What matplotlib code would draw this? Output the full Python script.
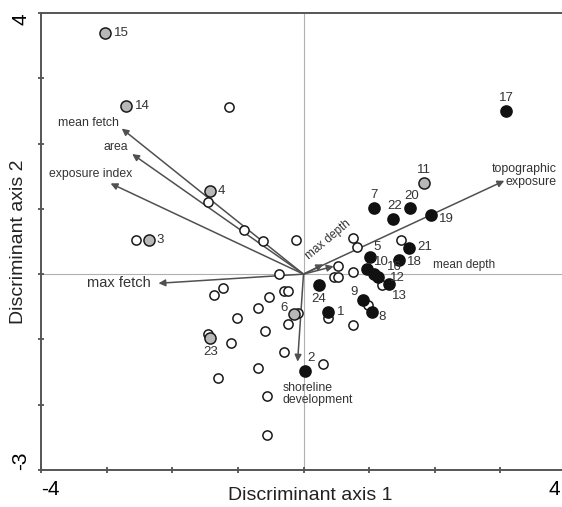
import numpy as np
import matplotlib
matplotlib.use('Agg')
import matplotlib.pyplot as plt
from matplotlib.transforms import ScaledTranslation

plt.rcParams['font.family'] = ['Liberation Sans', 'DejaVu Sans']

# unlabelled lakes (open circles)
open_x = [-1.14, -1.46, -0.90, -0.61, -0.11, -2.56, -0.38, -1.22, -1.37, -0.53,
          -0.29, -0.23, -0.70, -1.01, -0.24, -0.09, -0.58, -1.46, -1.10, -0.29,
          -0.70, -1.30, -0.56, -0.56, 0.29, 0.37, 0.76, 0.81, 1.49, 0.53,
          0.76, 0.46, 0.52, 1.19, 0.99, 0.76]
open_y = [2.56, 1.10, 0.67, 0.50, 0.52, 0.52, 0.00, -0.21, -0.32, -0.35,
          -0.26, -0.26, -0.52, -0.67, -0.76, -0.59, -0.87, -0.91, -1.05, -1.20,
          -1.43, -1.59, -1.86, -2.47, -1.37, -0.67, 0.55, 0.41, 0.53, 0.12,
          0.03, -0.05, -0.05, -0.17, -0.47, -0.78]

# grey labelled lakes
grey_lab = ['15', '14', '4', '3', '11', '6', '23']
grey_x = [-3.03, -2.70, -1.43, -2.36, 1.84, -0.15, -1.43]
grey_y = [3.69, 2.58, 1.27, 0.53, 1.40, -0.61, -0.98]

# black labelled lakes
black_lab = ['17', '7', '22', '20', '19', '21', '18', '5', '10', '16', '12',
             '13', '9', '8', '1', '24', '2']
black_x = [3.08, 1.08, 1.37, 1.63, 1.94, 1.60, 1.46, 1.01, 0.96, 1.07, 1.14,
           1.31, 0.91, 1.04, 0.37, 0.23, 0.02]
black_y = [2.50, 1.02, 0.84, 1.01, 0.91, 0.40, 0.21, 0.26, 0.08, 0.00, -0.05,
           -0.15, -0.40, -0.58, -0.58, -0.17, -1.49]

# environmental vectors
vec_names = ['mean fetch', 'area', 'exposure index', 'max fetch',
             'shoreline\ndevelopment', 'topographic\nexposure', 'max depth', 'mean depth']
vec_x = [-2.77, -2.61, -2.94, -2.21, -0.09, 3.06, 0.30, 0.46]
vec_y = [2.23, 1.84, 1.39, -0.14, -1.34, 1.43, 0.15, 0.12]

# label placement (pixel offsets from the point, alignment)
lab_pos = {
    '15': (9, 0, 'left', 'center'), '14': (9, 0, 'left', 'center'),
    '4': (8, 0, 'left', 'center'), '3': (8, 0, 'left', 'center'),
    '11': (0, 7, 'center', 'bottom'), '6': (-6, 6, 'right', 'center'),
    '23': (1, -8, 'center', 'top'), '17': (1, 7, 'center', 'bottom'),
    '7': (0, 7, 'center', 'bottom'), '22': (1, 7, 'center', 'bottom'),
    '20': (1, 6, 'center', 'bottom'), '19': (8, -4, 'left', 'center'),
    '21': (9, 1, 'left', 'center'), '18': (8, -2, 'left', 'center'),
    '5': (4, 10, 'left', 'center'), '10': (7, 7, 'left', 'center'),
    '16': (13, 7, 'left', 'center'), '12': (12, -1, 'left', 'center'),
    '13': (2, -12, 'left', 'center'), '9': (-5, 8, 'right', 'center'),
    '8': (7, -5, 'left', 'center'), '1': (9, 0, 'left', 'center'),
    '24': (0, -8, 'center', 'top'), '2': (3, 13, 'left', 'center'),
}
# vector label positions (data coords)
vec_txt = [(-2.82, 2.32, 'right', 0, 8.8), (-2.68, 1.94, 'right', 0, 8.8),
           (-2.61, 1.54, 'right', 0, 8.8), (-2.33, -0.14, 'right', 0, 10.5),
           (-0.32, -1.84, 'left', 0, 8.8), (3.86, 1.51, 'right', 0, 8.9),
           (0.38, 0.52, 'center', 40, 8.5), (1.97, 0.14, 'left', 0, 8.5)]

fig = plt.figure(figsize=(5.62, 5.07), dpi=100)
ax = fig.add_axes([41 / 562, 37 / 507, 525 / 562, 457 / 507])
ax.set_xlim(-4, 4)
ax.set_ylim(-3, 4)

ax.axhline(0, color='#b0b0b0', lw=0.8, zorder=1)
ax.axvline(0, color='#b0b0b0', lw=0.8, zorder=1)

for i in range(len(vec_names)):
    ax.annotate('', xy=(vec_x[i], vec_y[i]), xytext=(0, 0),
                arrowprops=dict(arrowstyle='-|>', color='#505050', lw=1.1,
                                mutation_scale=10, shrinkA=0, shrinkB=0), zorder=2)
    tx, ty, ha, rot, fs = vec_txt[i]
    ax.text(tx, ty, vec_names[i], ha=ha, va='center', rotation=rot,
            fontsize=fs, color='#333333', linespacing=1.05, zorder=5)

ax.scatter(open_x, open_y, s=44, facecolor='white', edgecolor='#1a1a1a', linewidth=1.1, zorder=3)
ax.scatter(grey_x, grey_y, s=64, facecolor='#b8b8b8', edgecolor='#1a1a1a', linewidth=1.1, zorder=4)
ax.scatter(black_x, black_y, s=64, facecolor='#111111', edgecolor='#111111', linewidth=1.1, zorder=4)

for lab, x, y in zip(grey_lab + black_lab, grey_x + black_x, grey_y + black_y):
    dx, dy, ha, va = lab_pos[lab]
    ax.annotate(lab, (x, y), xytext=(dx, dy), textcoords='offset pixels',
                ha=ha, va=va, fontsize=9.5, color='#333333', zorder=6)

# axes cosmetics
ax.spines['right'].set_visible(False)
for s in ['top', 'left', 'bottom']:
    ax.spines[s].set_color('#555555')
    ax.spines[s].set_linewidth(1.4)

ax.set_xticks(range(-4, 5))
ax.set_xticklabels(['-4', '', '', '', '', '', '', '', '4'], fontsize=15)
ax.set_yticks(range(-3, 5))
ax.set_yticklabels(['-3', '', '', '', '', '', '', '4'], fontsize=15, rotation=90)
ax.tick_params(direction='inout', length=5, width=1.2, color='#444444')
ax.tick_params(axis='x', pad=5)
ax.tick_params(axis='y', pad=5)
xl = ax.get_xticklabels()
xl[0].set_ha('left')
xl[-1].set_ha('right')
# the right end is cut by the figure edge, pull the "4" back inside
xl[-1].set_transform(xl[-1].get_transform() + ScaledTranslation(-4 / 72, 0, fig.dpi_scale_trans))
yl = ax.get_yticklabels()
yl[0].set_va('bottom')
yl[-1].set_va('top')

ax.set_xlabel('Discriminant axis 1', fontsize=14, color='#222222')
ax.xaxis.set_label_coords(0.512, -0.038)
ax.set_ylabel('Discriminant axis 2', fontsize=14, color='#222222', va='center')
ax.yaxis.set_label_coords(-0.042, 0.5)

plt.savefig('out.png', dpi=100)
plt.close()
